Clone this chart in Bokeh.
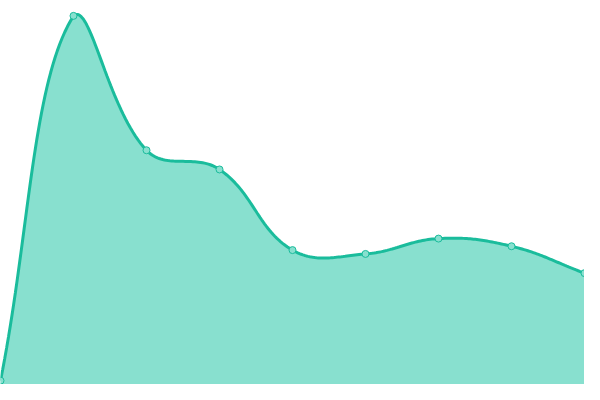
from bokeh.plotting import figure
from bokeh.models import Range1d
from bokeh.embed import file_html
from bokeh.resources import INLINE

# chart values (x = sample index, y on a 0-100 scale)
steps = [0, 1, 2, 3, 4, 5, 6, 7, 8]
values = [1, 96, 61, 56, 35, 34, 38, 36, 29]

W = 584
H = 384
X_MAX = 8
Y_MAX = 100
TENSION = 0.4

line_color = "#1abc9c"
fill_color = "#88e0cf"


def to_px(x, y):
	return x / X_MAX * W, H - y / Y_MAX * H


def to_data(px, py):
	return px / W * X_MAX, (H - py) / H * Y_MAX


def smooth(xs, ys, n=40):
	# cardinal style spline worked out in screen space, like the original renderer
	pts = [to_px(x, y) for x, y in zip(xs, ys)]
	ctrl = []
	for i in range(len(pts)):
		prev = pts[i - 1] if i > 0 else pts[i]
		cur = pts[i]
		nxt = pts[i + 1] if i < len(pts) - 1 else pts[i]
		d01 = ((cur[0] - prev[0]) ** 2 + (cur[1] - prev[1]) ** 2) ** 0.5
		d12 = ((nxt[0] - cur[0]) ** 2 + (nxt[1] - cur[1]) ** 2) ** 0.5
		s01 = d01 / (d01 + d12) if d01 + d12 else 0
		s12 = d12 / (d01 + d12) if d01 + d12 else 0
		fa = TENSION * s01
		fb = TENSION * s12
		cp_in = [cur[0] - fa * (nxt[0] - prev[0]), cur[1] - fa * (nxt[1] - prev[1])]
		cp_out = [cur[0] + fb * (nxt[0] - prev[0]), cur[1] + fb * (nxt[1] - prev[1])]
		for c in (cp_in, cp_out):
			c[0] = min(max(c[0], 0), W)
			c[1] = min(max(c[1], 0), H)
		ctrl.append((cp_in, cp_out))
	out_x, out_y = [], []
	for i in range(len(pts) - 1):
		p0 = pts[i]
		p1 = ctrl[i][1]
		p2 = ctrl[i + 1][0]
		p3 = pts[i + 1]
		for k in range(n + 1):
			if i > 0 and k == 0:
				continue
			t = k / n
			a = (1 - t) ** 3
			b = 3 * (1 - t) ** 2 * t
			c = 3 * (1 - t) * t ** 2
			d = t ** 3
			px = a * p0[0] + b * p1[0] + c * p2[0] + d * p3[0]
			py = a * p0[1] + b * p1[1] + c * p2[1] + d * p3[1]
			dx, dy = to_data(px, py)
			out_x.append(dx)
			out_y.append(dy)
	return out_x, out_y


cx, cy = smooth(steps, values)

p = figure(width=W, height=H, x_range=Range1d(0, X_MAX), y_range=Range1d(0, Y_MAX),
	output_backend="svg", toolbar_location=None, min_border=0)
p.axis.visible = False
p.grid.visible = False
p.outline_line_color = None
p.background_fill_color = "white"

p.patch(cx + [cx[-1], cx[0]], cy + [0, 0], fill_color=fill_color, line_color=None)
p.line(cx, cy, line_color=line_color, line_width=3)
p.scatter(steps, values, size=7, fill_color=fill_color, line_color=line_color, line_width=1)

open("out.html", "w").write(file_html(p, INLINE))
